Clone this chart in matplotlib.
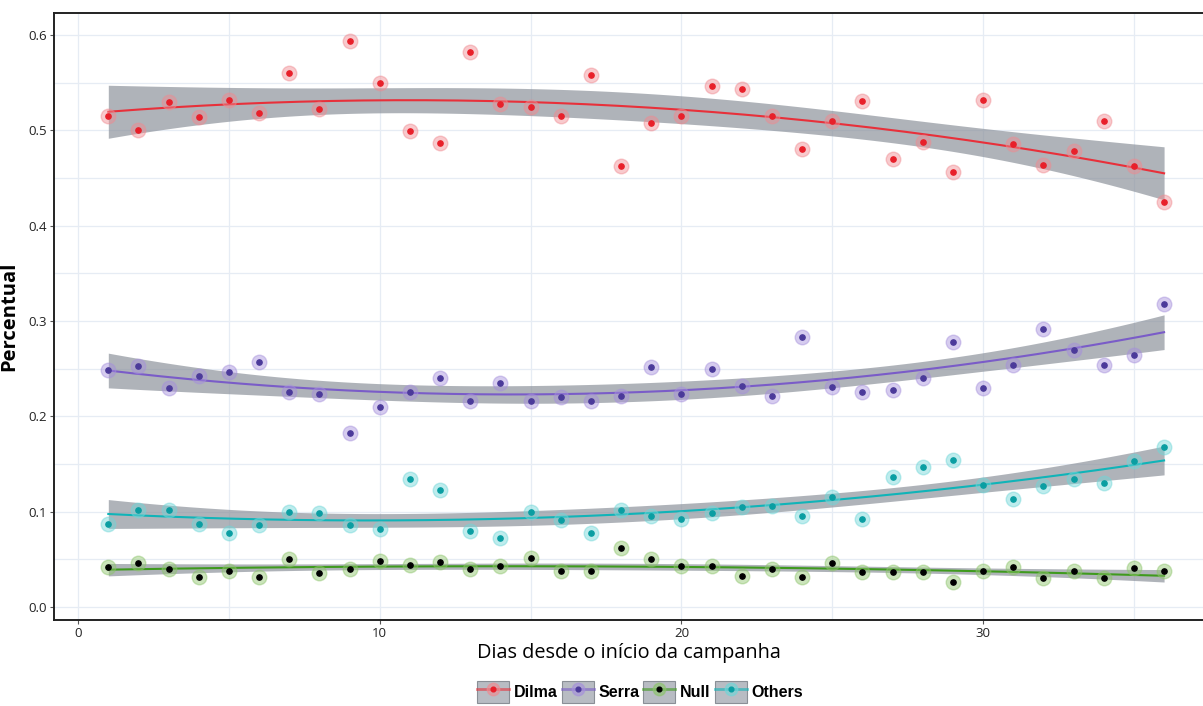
import numpy as np
import matplotlib
matplotlib.use("Agg")
import matplotlib.pyplot as plt
from matplotlib.lines import Line2D
from matplotlib.patches import Patch

days = list(range(1, 37))
dilma = [0.515, 0.500, 0.530, 0.514, 0.532, 0.518, 0.560, 0.522, 0.594, 0.550,
         0.499, 0.487, 0.582, 0.528, 0.525, 0.515, 0.558, 0.463, 0.508, 0.515,
         0.547, 0.543, 0.515, 0.480, 0.510, 0.531, 0.470, 0.488, 0.456, 0.532,
         0.486, 0.464, 0.478, 0.510, 0.463, 0.425]
serra = [0.249, 0.253, 0.230, 0.242, 0.247, 0.257, 0.226, 0.223, 0.183, 0.210,
         0.226, 0.240, 0.216, 0.235, 0.216, 0.220, 0.216, 0.221, 0.252, 0.223,
         0.250, 0.232, 0.221, 0.283, 0.231, 0.226, 0.228, 0.240, 0.278, 0.230,
         0.254, 0.292, 0.270, 0.254, 0.264, 0.318]
null = [0.042, 0.046, 0.040, 0.031, 0.038, 0.031, 0.050, 0.036, 0.040, 0.048,
        0.044, 0.047, 0.040, 0.043, 0.051, 0.038, 0.038, 0.062, 0.050, 0.043,
        0.043, 0.033, 0.040, 0.031, 0.046, 0.037, 0.037, 0.037, 0.026, 0.038,
        0.042, 0.030, 0.038, 0.030, 0.041, 0.038]
others = [0.087, 0.102, 0.102, 0.087, 0.078, 0.086, 0.100, 0.099, 0.086, 0.082,
          0.134, 0.123, 0.080, 0.072, 0.100, 0.091, 0.078, 0.102, 0.095, 0.092,
          0.099, 0.105, 0.106, 0.095, 0.115, 0.092, 0.136, 0.147, 0.154, 0.128,
          0.113, 0.127, 0.134, 0.130, 0.153, 0.168]

names = ["Dilma", "Serra", "Null", "Others"]
series = [dilma, serra, null, others]
# (line, dot centre, halo)
colors = [("#e8303a", "#e8202a", "#f08a90"),
          ("#7a5cc8", "#4b3a9a", "#a58fdc"),
          ("#3f9a1e", "#000000", "#8cc46a"),
          ("#10b4b8", "#0a9ea2", "#6fd6d8")]


def quad_smooth(x, y, xs):
    # quadratic least squares fit with a 95% confidence band
    x = np.asarray(x, float)
    y = np.asarray(y, float)
    X = np.column_stack([np.ones_like(x), x, x ** 2])
    beta, *_ = np.linalg.lstsq(X, y, rcond=None)
    resid = y - X @ beta
    sigma2 = np.sum(resid ** 2) / (len(x) - 3)
    cov = sigma2 * np.linalg.inv(X.T @ X)
    Xs = np.column_stack([np.ones_like(xs), xs, xs ** 2])
    fit = Xs @ beta
    se = np.sqrt(np.einsum("ij,jk,ik->i", Xs, cov, Xs))
    return fit, 2.035 * se


fig = plt.figure(figsize=(12.03, 7.06), dpi=100)
ax = fig.add_axes([0.0449, 0.1218, 0.9551, 0.8598])

xs = np.linspace(1, 36, 200)
for vals, (lc, dc, hc) in zip(series, colors):
    fit, ci = quad_smooth(days, vals, xs)
    ax.fill_between(xs, fit - ci, fit + ci, color="#8a9099", alpha=0.68, lw=0, zorder=2)
    ax.plot(xs, fit, color=lc, lw=1.5, zorder=3)
for vals, (lc, dc, hc) in zip(series, colors):
    ax.plot(days, vals, ls="none", marker="o", ms=10.5, mfc=hc, mec=hc,
            alpha=0.45, zorder=4)
    ax.plot(days, vals, ls="none", marker="o", ms=3.8, mfc=dc, mec=dc, zorder=5)

ax.set_xlim(-0.8, 37.29)
ax.set_ylim(-0.0136, 0.6231)
ax.set_xticks([0, 10, 20, 30])
ax.set_xticks([5, 15, 25, 35], minor=True)
ax.set_yticks([0.0, 0.1, 0.2, 0.3, 0.4, 0.5, 0.6])
ax.set_yticks([0.05, 0.15, 0.25, 0.35, 0.45, 0.55], minor=True)
ax.set_yticklabels(["0.0", "0.1", "0.2", "0.3", "0.4", "0.5", "0.6"])
ax.grid(which="both", color="#e6ecf4", lw=0.9, zorder=0)
ax.tick_params(which="major", length=3, width=0.8, color="#555555",
               labelsize=9.5, labelcolor="#222222", pad=2)
ax.tick_params(which="minor", length=0)
for lab in ax.get_xticklabels() + ax.get_yticklabels():
    lab.set_family("Open Sans")
for s in ["left", "top", "bottom"]:
    ax.spines[s].set_color("#222222")
    ax.spines[s].set_linewidth(1.4)
ax.spines["right"].set_visible(False)

ax.set_xlabel("Dias desde o início da campanha", family="Open Sans",
              fontsize=14.3, labelpad=2)
ax.set_ylabel("Percentual", family="Open Sans", fontweight="bold", fontsize=14.5)
ax.yaxis.set_label_coords(-0.03, 0.5)

handles = []
for (lc, dc, hc) in colors:
    box = Patch(facecolor="#b8bcc3", edgecolor="#8a8f96", lw=0.8)
    halo = Line2D([], [], color=lc, lw=2, marker="o", ms=9, mfc=hc, mec=hc, alpha=0.6)
    dot = Line2D([], [], ls="none", marker="o", ms=3.4, mfc=dc, mec=dc)
    handles.append((box, halo, dot))
fig.legend(handles, names, loc="center", bbox_to_anchor=(0.532, 0.02), ncol=4,
           frameon=False, handlelength=2.0, handleheight=1.7, handletextpad=0.3,
           columnspacing=0.25, borderaxespad=0,
           prop={"family": "Liberation Sans", "weight": "bold", "size": 11.5})

fig.savefig("out.png", dpi=100)
